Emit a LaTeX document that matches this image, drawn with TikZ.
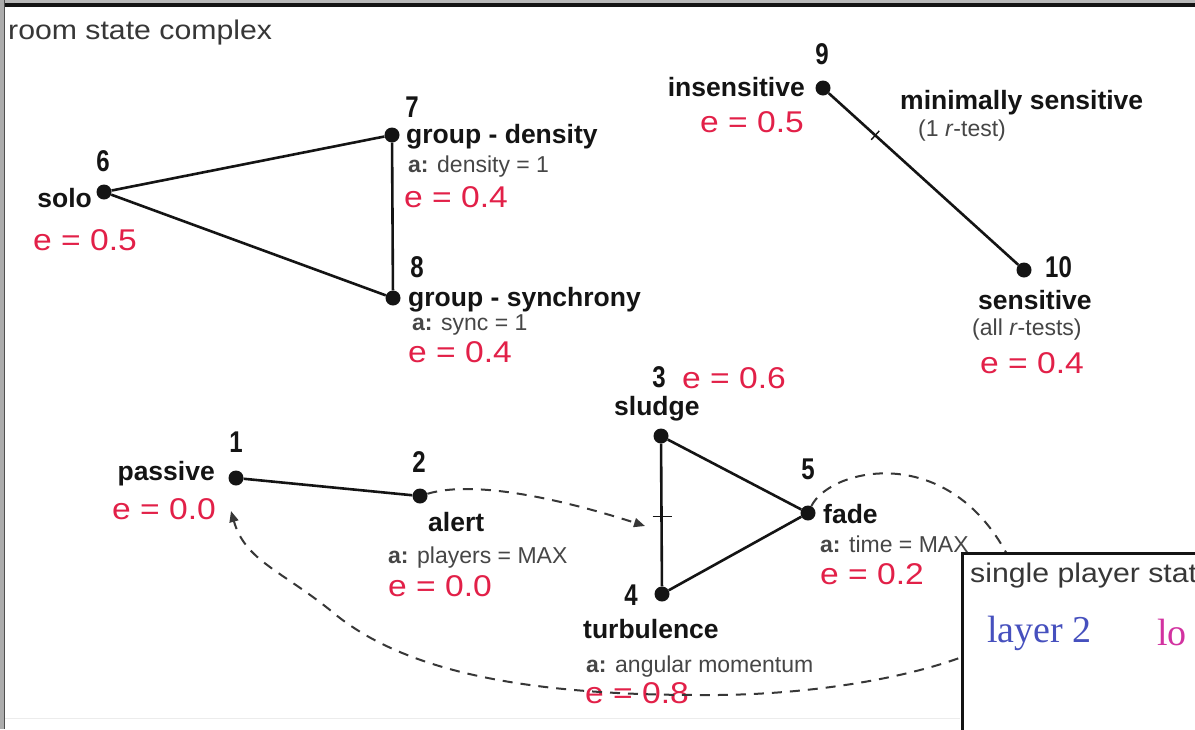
\documentclass[tikz,border=0pt]{standalone}
\usepackage{fontspec}
\setmainfont{Liberation Sans}
\newfontfamily\widefam{Liberation Sans}[FakeStretch=1.12]
\newfontfamily\numfam{Liberation Sans}[FakeStretch=0.8]
\newfontfamily\serfam{Liberation Serif}
\usetikzlibrary{arrows.meta,calc}
\definecolor{ered}{RGB}{226,32,72}
\definecolor{lblue}{RGB}{70,80,190}
\definecolor{lmag}{RGB}{210,50,160}
\definecolor{ink}{RGB}{20,20,20}
\definecolor{soft}{RGB}{70,70,70}
\tikzset{
  vtx/.style={circle,fill=ink,inner sep=0pt,minimum size=15pt},
  lbl/.style={inner sep=0pt,text=ink,font=\fontsize{26.5}{30}\selectfont\bfseries},
  num/.style={inner sep=0pt,text=ink,font=\numfam\fontsize{30}{32}\selectfont\bfseries},
  act/.style={inner sep=0pt,text=soft,font=\fontsize{23}{26}\selectfont},
  en/.style={inner sep=0pt,text=ered,font=\widefam\fontsize{30}{34}\selectfont},
  ttl/.style={inner sep=0pt,text=ink!85,font=\widefam\fontsize{27}{30}\selectfont},
  edge/.style={line width=2.6pt,draw=ink},
  flow/.style={line width=2pt,draw=ink!85,dash pattern=on 10pt off 8pt},
  tip/.style={-{Triangle[length=11pt,width=9pt]}},
  tick/.style={line width=1.4pt,draw=ink},
}
\begin{document}
\begin{tikzpicture}[x=1pt,y=-1pt]
\useasboundingbox (0,0) rectangle (1195,729);
\clip (0,0) rectangle (1195,729);
\fill[white] (0,0) rectangle (1195,729);

% window frame
\fill[gray!55] (0,0) rectangle (1195,3);
\draw[line width=3.5pt,ink] (0,5) -- (1195,5);
\fill[gray!65] (0,0) rectangle (4,729);
\draw[line width=1pt,ink!75] (4.5,0) -- (4.5,729);
\draw[line width=1pt,gray!15] (5,718) -- (960,718);

\node[ttl,anchor=base west] (title) at (8,39) {room state complex};

% group triangle
\node[vtx] (n6) at (104,192) {};
\node[vtx] (n7) at (392,135) {};
\node[vtx] (n8) at (393,298) {};
\draw[edge] (n6) -- (n7);
\draw[edge] (n6) -- (n8);
\draw[edge] (n7) -- (n8);

\node[num,anchor=base] (k6) at (103,171) {6};
\node[lbl,anchor=base east] (l6) at (92,207) {solo};
\node[en,anchor=base west] (e6) at (33,250) {e = 0.5};

\node[num,anchor=base] (k7) at (412,117) {7};
\node[lbl,anchor=base west] (l7) at (406,143) {group - density};
\node[act,anchor=base west] (a7) at (408,172) {{\bfseries a:} density = 1};
\node[en,anchor=base west] (e7) at (404,207) {e = 0.4};

\node[num,anchor=base] (k8) at (417,277) {8};
\node[lbl,anchor=base west] (l8) at (408,306) {group - synchrony};
\node[act,anchor=base west] (a8) at (412,330) {{\bfseries a:} sync = 1};
\node[en,anchor=base west] (e8) at (408,362) {e = 0.4};

% sensitivity pair
\node[vtx] (n9) at (823,88) {};
\node[vtx] (n10) at (1024,270) {};
\draw[edge] (n9) -- (n10);
\coordinate (t9) at ($(n9)!0.26!(n10)$);
\draw[tick] ($(t9)!6pt!90:(n10)$) -- ($(t9)!6pt!-90:(n10)$);

\node[num,anchor=base] (k9) at (822,64) {9};
\node[lbl,anchor=base east] (l9) at (805,96) {insensitive};
\node[en,anchor=base west] (e9) at (700,132) {e = 0.5};
\node[lbl,anchor=base west] (ms) at (900,109) {minimally sensitive};
\node[act,anchor=base west] (ms2) at (918,136) {(1 \textit{r}-test)};

\node[num,anchor=base west] (k10) at (1045,277) {10};
\node[lbl,anchor=base west] (l10) at (978,309) {sensitive};
\node[act,anchor=base west] (a10) at (972,335) {(all \textit{r}-tests)};
\node[en,anchor=base west] (e10) at (980,373) {e = 0.4};

% activity states
\node[vtx] (n1) at (236,478) {};
\node[vtx] (n2) at (420,496) {};
\node[vtx] (n3) at (661,436) {};
\node[vtx] (n4) at (662,594) {};
\node[vtx] (n5) at (808,513) {};
\draw[edge] (n1) -- (n2);
\draw[edge] (n3) -- (n4);
\draw[edge] (n3) -- (n5);
\draw[edge] (n4) -- (n5);
\coordinate (t3) at ($(n3)!0.51!(n4)$);
\draw[tick] ($(t3)+(-9,0)$) -- ($(t3)+(10,0)$);

\node[num,anchor=base] (k1) at (236,452) {1};
\node[lbl,anchor=base east] (l1) at (215,480) {passive};
\node[en,anchor=base west] (e1) at (112,519) {e = 0.0};

\node[num,anchor=base] (k2) at (419,472) {2};
\node[lbl,anchor=base west] (l2) at (428,531) {alert};
\node[act,anchor=base west] (a2) at (388,563) {{\bfseries a:} players = MAX};
\node[en,anchor=base west] (e2) at (388,596) {e = 0.0};

\node[num,anchor=base] (k3) at (659,387) {3};
\node[en,anchor=base west] (e3) at (682,388) {e = 0.6};
\node[lbl,anchor=base west] (l3) at (614,415) {sludge};

\node[num,anchor=base] (k5) at (808,479) {5};
\node[lbl,anchor=base west] (l5) at (823,523) {fade};
\node[act,anchor=base west] (a5) at (820,552) {{\bfseries a:} time = MAX};
\node[en,anchor=base west] (e5) at (820,584) {e = 0.2};

\node[num,anchor=base] (k4) at (631,605) {4};
\node[lbl,anchor=base west] (l4) at (583,638) {turbulence};
\node[act,anchor=base west] (a4) at (586,672) {{\bfseries a:} angular momentum};
\node[en,anchor=base west] (e4) at (585,703) {e = 0.8};

% transitions
\coordinate (a3) at (645,526);
\coordinate (a1) at (231,511);
\draw[flow,tip] (n2) .. controls (480,478) and (580,505) .. (a3);
\draw[flow,tip] (n5) .. controls (830,468) and (950,440) .. (1010,560)
  .. controls (1040,620) and (1000,645) .. (962,657)
  .. controls (900,680) and (800,696) .. (700,695)
  .. controls (520,695) and (400,670) .. (330,610)
  .. controls (280,570) and (245,560) .. (a1);

% overlapping panel
\draw[line width=3pt,ink,fill=white] (962,553) rectangle (1260,800);
\node[ttl,anchor=base west] (sp) at (970,582) {single player state};
\node[inner sep=0pt,anchor=base west,text=lblue,font=\serfam\fontsize{38}{40}\selectfont] (ly2) at (987,642) {layer 2};
\node[inner sep=0pt,anchor=base west,text=lmag,font=\serfam\fontsize{38}{40}\selectfont] (lo) at (1157,645) {lo};
\end{tikzpicture}
\end{document}
